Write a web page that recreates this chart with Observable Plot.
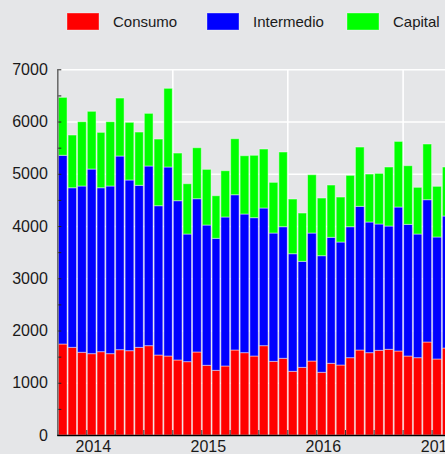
<!DOCTYPE html>
<html><head><meta charset="utf-8">
<script src="https://cdn.jsdelivr.net/npm/d3@7"></script>
<script src="https://cdn.jsdelivr.net/npm/@observablehq/plot@0.6"></script>
<style>
html,body{margin:0;padding:0;background:#e5e6e8;}
#wrap{width:445px;height:454px;overflow:hidden;position:relative;background:#e5e6e8;font-family:"Liberation Sans",Arial,sans-serif;}
#wrap svg{display:block;max-width:none !important;}
</style></head><body><div id="wrap"></div>
<script>
const months = ["2013-10","2013-11","2013-12",
  "2014-01","2014-02","2014-03","2014-04","2014-05","2014-06","2014-07","2014-08","2014-09","2014-10","2014-11","2014-12",
  "2015-01","2015-02","2015-03","2015-04","2015-05","2015-06","2015-07","2015-08","2015-09","2015-10","2015-11","2015-12",
  "2016-01","2016-02","2016-03","2016-04","2016-05","2016-06","2016-07","2016-08","2016-09","2016-10","2016-11","2016-12",
  "2017-01","2017-02"];
const consumo = [1742,1678,1583,1557,1595,1557,1633,1614,1678,1710,1531,1512,1436,1404,1589,1334,1238,1321,1627,1576,1512,1710,1410,1468,1219,1295,1416,1200,1372,1340,1480,1627,1576,1621,1640,1608,1512,1480,1780,1455,1665];
const intermedio = [3612,3055,3183,3534,3138,3209,3707,3267,3101,3439,2858,3618,3049,2443,2934,2685,2527,2852,2972,2654,2648,2635,2456,2519,2251,2029,2450,2232,2412,2354,2507,2750,2501,2418,2360,2756,2520,2367,2724,2335,2527];
const capital = [1109,1009,1231,1105,1060,1231,1110,1104,1020,1008,1276,1506,912,963,976,1066,815,886,1072,1116,1194,1129,970,1430,1047,925,1116,1104,1001,861,983,1135,918,969,1130,1256,1123,894,1066,970,938];
const seriesNames = ["Consumo","Intermedio","Capital"];
const seriesColors = ["#ff0000","#0000ff","#00ff00"];
const yearTicks = ["2014-01-01","2015-01-01","2016-01-01","2017-01-01"];
const gridDates = ["2014-10-01","2015-10-01","2016-10-01"];
const yTicks = [0,1000,2000,3000,4000,5000,6000,7000];
const yMinor = [500,1500,2500,3500,4500,5500,6500];
const xDomain = ["2013-10-01","2017-03-01"];

const parse = s => new Date(s.length === 7 ? s + "-01T00:00:00Z" : s + "T00:00:00Z");
const seriesValues = [consumo, intermedio, capital];
const data = [];
months.forEach((m, i) => {
  seriesNames.forEach((s, j) => data.push({date: parse(m), series: s, value: seriesValues[j][i]}));
});
const quarters = months.filter((m, i) => i % 3 === 0).map(parse);

const wrap = document.getElementById("wrap");

// legend
const leg = d3.create("svg").attr("width", 445).attr("height", 45);
seriesNames.forEach((s, i) => {
  const x0 = 67 + i * 140;
  leg.append("rect").attr("x", x0).attr("y", 13).attr("width", 32).attr("height", 17)
    .attr("fill", seriesColors[i]).attr("stroke", "white").attr("stroke-opacity", 0.35);
  leg.append("text").attr("x", x0 + 46).attr("y", 27.3).text(s)
    .attr("font-family", "Liberation Sans, Arial, sans-serif").attr("font-size", 15).attr("fill", "#1a1a1a");
});
wrap.appendChild(leg.node());

const W = 460, H = 409, mL = 57.3, mR = 9.8, mT = 24.3, mB = 19;
const innerW = W - mL - mR, innerH = H - mT - mB;

const chart = Plot.plot({
  width: W, height: H,
  marginLeft: mL, marginRight: mR, marginTop: mT, marginBottom: mB,
  style: {background: "transparent", fontFamily: "Liberation Sans, Arial, sans-serif", fontSize: "16px", color: "#1a1a1a", overflow: "visible", maxWidth: "none"},
  x: {type: "utc", domain: xDomain.map(parse)},
  y: {domain: [0, 7000]},
  color: {domain: seriesNames, range: seriesColors},
  marks: [
    Plot.ruleY(yTicks, {y: d => d, stroke: "white", strokeWidth: 1.6}),
    Plot.ruleX(gridDates, {x: d => parse(d), stroke: "white", strokeWidth: 1.6}),
    Plot.rectY(data, {x: "date", interval: d3.utcMonth, y: "value", fill: "series", stroke: "white", strokeOpacity: 0.45, strokeWidth: 1}),
    Plot.tickY(yMinor.concat(yTicks), {y: d => d, stroke: "#222", strokeWidth: 1, insetRight: innerW - 4}),
    Plot.tickX(quarters, {x: d => d, stroke: "#333", strokeWidth: 1, insetTop: innerH - 5}),
    Plot.ruleX([parse(months[0])], {stroke: "#666", strokeWidth: 1.5}),
    Plot.ruleY([0], {stroke: "#000", strokeWidth: 1.5}),
    Plot.axisY({ticks: yTicks, tickSize: 0, tickPadding: 10, fontSize: 16, label: null, tickFormat: d => String(d)}),
    Plot.axisX({ticks: yearTicks.map(parse), tickSize: 0, tickPadding: 5.5, dx: 6.5, fontSize: 16, label: null, tickFormat: d3.utcFormat("%Y")})
  ]
});
chart.style.maxWidth = "none";
wrap.appendChild(chart);
</script></body></html>
